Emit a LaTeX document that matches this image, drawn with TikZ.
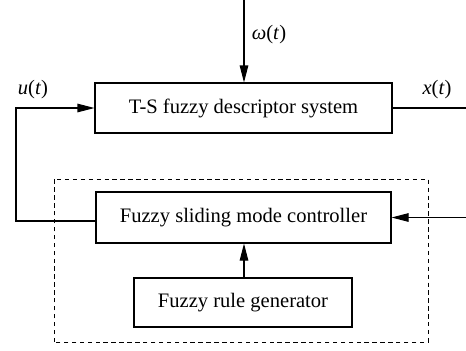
\documentclass[tikz,border=0pt]{standalone}
\usepackage{fontspec}
\setmainfont{Liberation Serif}
\usepackage{tikz}
\usetikzlibrary{arrows.meta}
\tikzset{
    block/.style={rectangle, draw, line width=0.6pt, inner sep=0mm, font=\fontsize{11.7}{14}\selectfont},
    sig/.style={draw=none, font=\fontsize{11.7}{14}\selectfont},
    every path/.style={line width=0.6pt},
    >={Triangle[length=3.4mm, width=1.7mm]}
}

\begin{document}
\begin{tikzpicture}
    \useasboundingbox (0cm, 0cm) rectangle (9.32cm, 7.0cm);

    \node (sys) [block, minimum width=5.94cm, minimum height=1.0cm] at (4.87cm, 4.84cm) {T-S fuzzy descriptor system};
    \node (ctrl) [block, minimum width=5.9cm, minimum height=1.02cm] at (4.87cm, 2.65cm) {Fuzzy sliding mode controller};
    \node (rule) [block, minimum width=4.36cm, minimum height=0.98cm] at (4.86cm, 0.95cm) {Fuzzy rule generator};

    \node (w) [sig] at (5.38cm, 6.3cm) {\textit{ω}(\textit{t})};
    \node (u) [sig] at (0.66cm, 5.2cm) {\textit{u}(\textit{t})};
    \node (x) [sig] at (8.74cm, 5.2cm) {\textit{x}(\textit{t})};

    \coordinate (win) at (4.88cm, 7.0cm);
    \coordinate (xout) at (9.32cm, 4.84cm);
    \coordinate (rin) at (9.32cm, 2.65cm);
    \coordinate (fb) at (0.32cm, 2.58cm);

    % controller and rule generator
    \draw [dashed, line width=0.5pt, dash pattern=on 2.5pt off 2pt] (1.08cm, 0.16cm) rectangle (8.56cm, 3.42cm);

    \draw [->] (win) -- (sys.north -| win);
    \draw (sys.east) -- (xout);
    \draw [->] (rin) -- (ctrl.east);
    \draw [->] (rule.north -| win) -- (ctrl.south -| win);
    \draw [->] (ctrl.west |- fb) -- (fb) |- (sys.west);
\end{tikzpicture}
\end{document}
